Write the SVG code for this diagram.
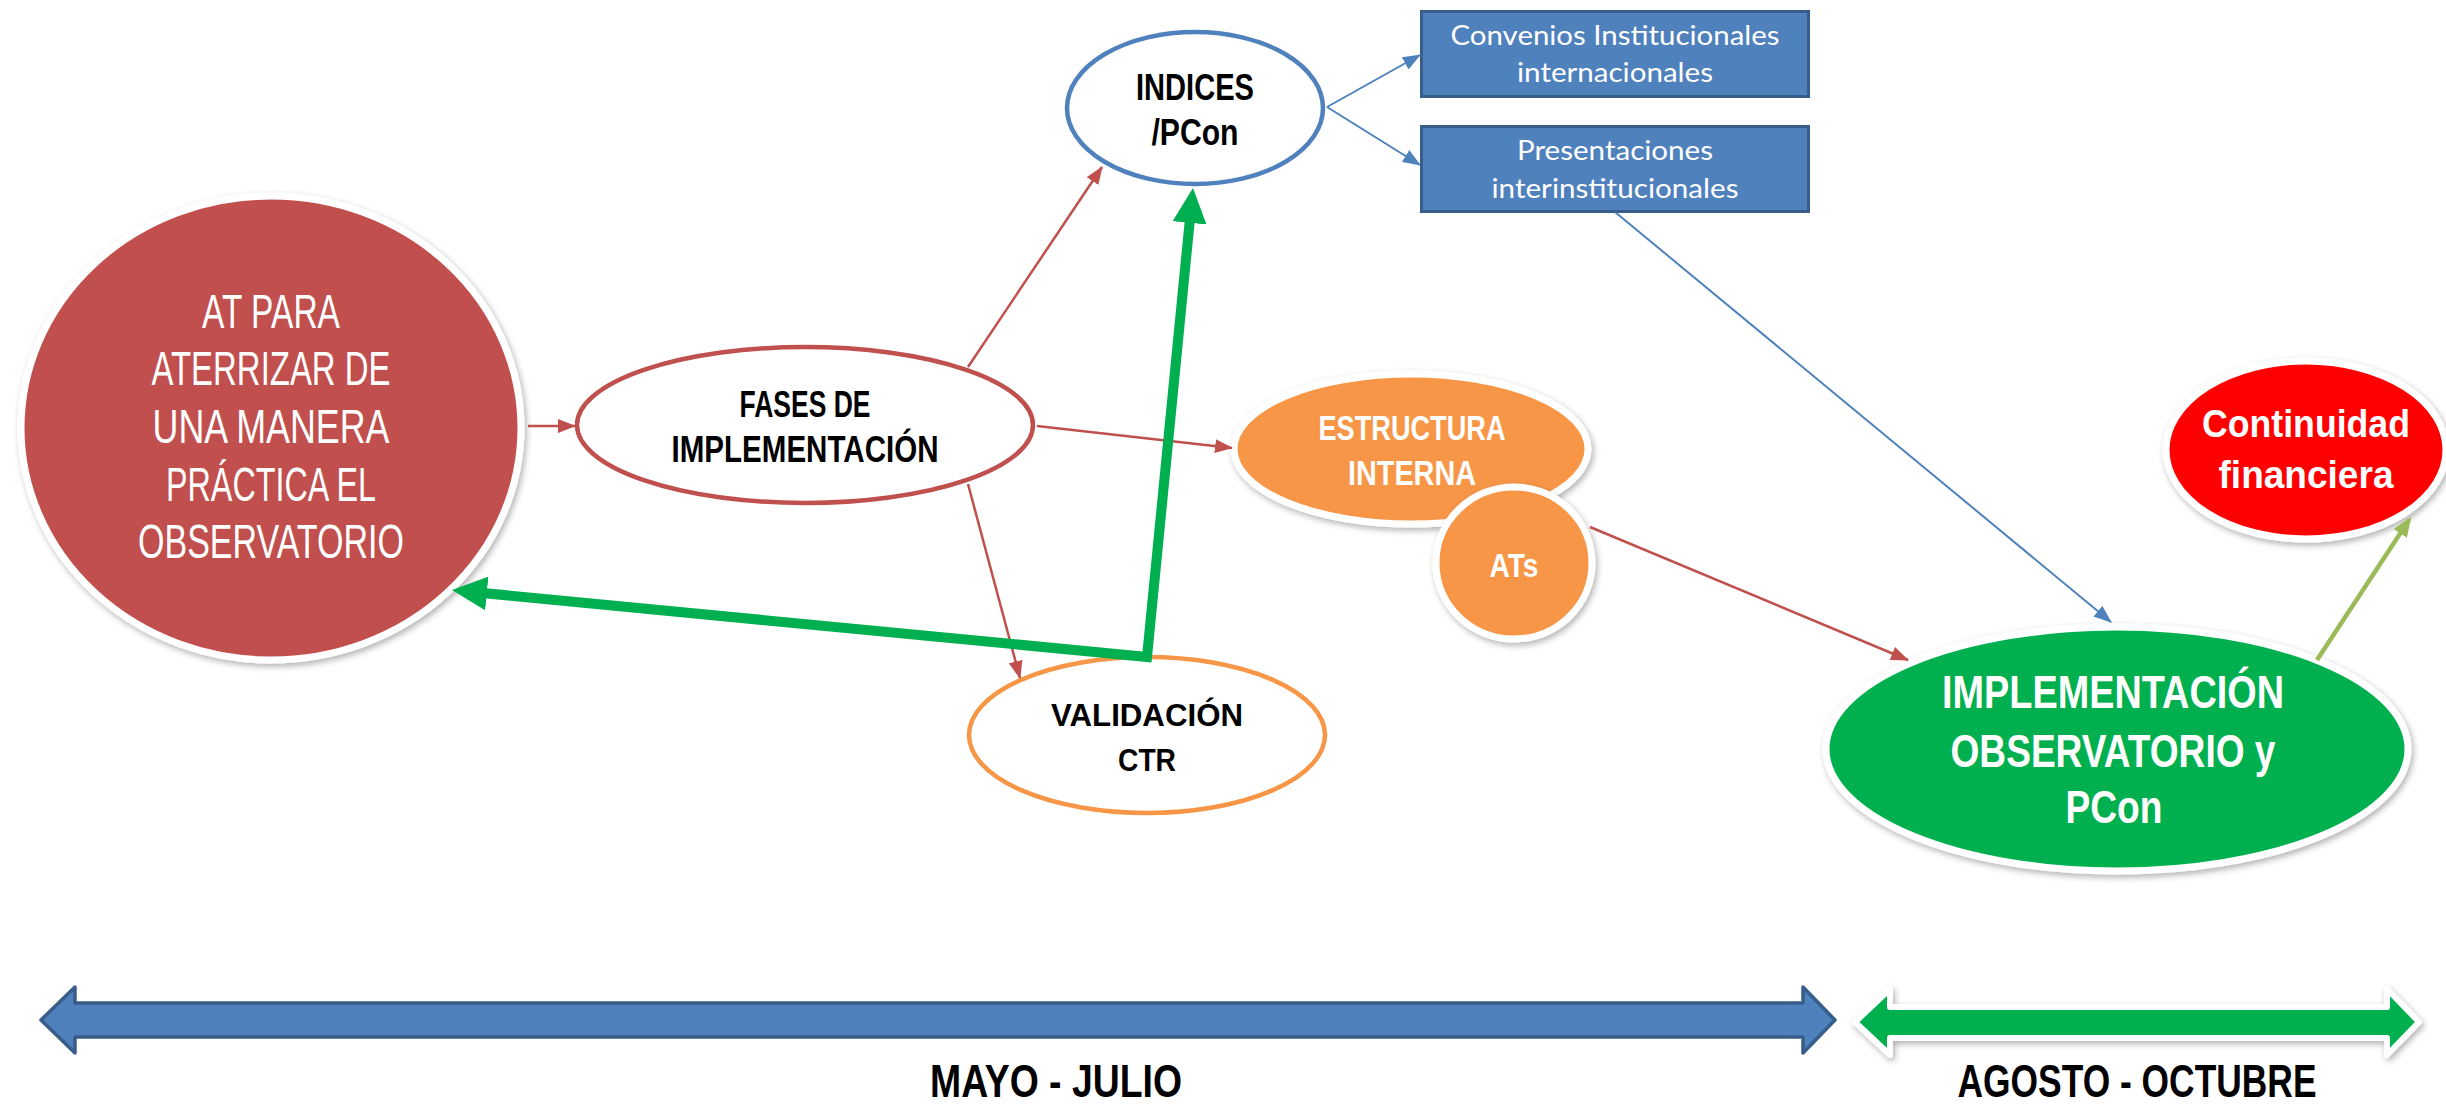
<svg xmlns="http://www.w3.org/2000/svg" width="2446" height="1107" viewBox="0 0 2446 1107">
<style>
.t{font-family:"Liberation Sans",Arial,sans-serif;text-anchor:middle}
.b{font-weight:bold}
.w{fill:#fff}
.k{fill:#000}
.box{font-family:Lato,"Open Sans","Liberation Sans",sans-serif;text-anchor:middle;fill:#fff}
.cr{stroke:#C0504D;stroke-width:2.5;fill:none}
.cb{stroke:#4F81BD;stroke-width:2;fill:none}
.co{stroke:#9BBB59;stroke-width:4.5;fill:none}
.cg{stroke:#00B050;stroke-width:10;fill:none;stroke-linejoin:miter}
.halo{stroke:#fff;stroke-width:7}
</style>
<defs>
<filter id="sh" x="-10%" y="-10%" width="125%" height="130%">
<feDropShadow dx="2" dy="3" stdDeviation="3" flood-color="#000" flood-opacity="0.3"/>
</filter>
<marker id="mr" markerUnits="userSpaceOnUse" viewBox="0 0 18 14" markerWidth="18" markerHeight="14" refX="17" refY="7" orient="auto"><path d="M0,0 L18,7 L0,14 z" fill="#C0504D"/></marker>
<marker id="mb" markerUnits="userSpaceOnUse" viewBox="0 0 18 14" markerWidth="18" markerHeight="14" refX="17" refY="7" orient="auto"><path d="M0,0 L18,7 L0,14 z" fill="#4F81BD"/></marker>
<marker id="mo" markerUnits="userSpaceOnUse" viewBox="0 0 20 16" markerWidth="20" markerHeight="16" refX="16" refY="8" orient="auto"><path d="M0,0 L20,8 L0,16 z" fill="#9BBB59"/></marker>
<marker id="mg" markerUnits="userSpaceOnUse" viewBox="0 0 35 34" markerWidth="35" markerHeight="34" refX="23" refY="17" orient="auto-start-reverse"><path d="M0,0 L35,17 L0,34 z" fill="#00B050"/></marker>
</defs>
<rect width="2446" height="1107" fill="#fff"/>

<g id="node-at-para">
<ellipse cx="271" cy="428" rx="250" ry="232" fill="#C0504D" class="halo" filter="url(#sh)"/>
<text class="t w" font-size="49"><tspan x="271" y="328" textLength="138" lengthAdjust="spacingAndGlyphs">AT PARA</tspan><tspan x="271" y="385" textLength="239" lengthAdjust="spacingAndGlyphs">ATERRIZAR DE</tspan><tspan x="271" y="443" textLength="237" lengthAdjust="spacingAndGlyphs">UNA MANERA</tspan><tspan x="271" y="501" textLength="210" lengthAdjust="spacingAndGlyphs">PRÁCTICA EL</tspan><tspan x="271" y="558" textLength="266" lengthAdjust="spacingAndGlyphs">OBSERVATORIO</tspan></text>
</g>

<g id="node-fases">
<ellipse cx="805" cy="425" rx="228" ry="78" fill="#fff" stroke="#C0504D" stroke-width="4.5"/>
<text class="t b k" font-size="36"><tspan x="805" y="417" textLength="131" lengthAdjust="spacingAndGlyphs">FASES DE</tspan><tspan x="805" y="462" textLength="267" lengthAdjust="spacingAndGlyphs">IMPLEMENTACIÓN</tspan></text>
</g>

<g id="node-indices">
<ellipse cx="1195" cy="108" rx="128" ry="76" fill="#fff" stroke="#4F81BD" stroke-width="4.5"/>
<text class="t b k" font-size="36"><tspan x="1195" y="100" textLength="118" lengthAdjust="spacingAndGlyphs">INDICES</tspan><tspan x="1195" y="145" textLength="87" lengthAdjust="spacingAndGlyphs">/PCon</tspan></text>
</g>

<g id="node-convenios">
<rect x="1421.5" y="11.5" width="387" height="85" fill="#4F81BD" stroke="#385D8A" stroke-width="3"/>
<text class="box" font-size="26"><tspan x="1615" y="45" textLength="329" lengthAdjust="spacingAndGlyphs">Convenios Institucionales</tspan><tspan x="1615" y="82" textLength="196" lengthAdjust="spacingAndGlyphs">internacionales</tspan></text>
</g>

<g id="node-presentaciones">
<rect x="1421.5" y="126.5" width="387" height="85" fill="#4F81BD" stroke="#385D8A" stroke-width="3"/>
<text class="box" font-size="26"><tspan x="1615" y="160" textLength="196" lengthAdjust="spacingAndGlyphs">Presentaciones</tspan><tspan x="1615" y="198" textLength="247" lengthAdjust="spacingAndGlyphs">interinstitucionales</tspan></text>
</g>

<g id="node-validacion">
<ellipse cx="1147" cy="735" rx="178" ry="78" fill="#fff" stroke="#F79646" stroke-width="4.5"/>
<text class="t b k" font-size="32"><tspan x="1147" y="726" textLength="192" lengthAdjust="spacingAndGlyphs">VALIDACIÓN</tspan><tspan x="1147" y="771" textLength="58" lengthAdjust="spacingAndGlyphs">CTR</tspan></text>
</g>

<g id="node-estructura">
<ellipse cx="1411" cy="449" rx="177" ry="75" fill="#F79646" class="halo" filter="url(#sh)"/>
<text class="t b w" font-size="35"><tspan x="1412" y="440" textLength="187" lengthAdjust="spacingAndGlyphs">ESTRUCTURA</tspan><tspan x="1412" y="485" textLength="128" lengthAdjust="spacingAndGlyphs">INTERNA</tspan></text>
</g>

<g id="node-ats">
<ellipse cx="1514" cy="563" rx="78" ry="76" fill="#F79646" class="halo" filter="url(#sh)"/>
<text class="t b w" font-size="33" x="1514" y="577" textLength="49" lengthAdjust="spacingAndGlyphs">ATs</text>
</g>

<g id="node-implementacion">
<ellipse cx="2117" cy="749" rx="291" ry="122" fill="#00B050" class="halo" filter="url(#sh)"/>
<text class="t b w" font-size="46"><tspan x="2113" y="708" textLength="342" lengthAdjust="spacingAndGlyphs">IMPLEMENTACIÓN</tspan><tspan x="2113" y="767" textLength="325" lengthAdjust="spacingAndGlyphs">OBSERVATORIO y</tspan><tspan x="2114" y="823" textLength="97" lengthAdjust="spacingAndGlyphs">PCon</tspan></text>
</g>

<g id="node-continuidad">
<ellipse cx="2306" cy="450" rx="140" ry="89" fill="#FF0000" class="halo" filter="url(#sh)"/>
<text class="t b w" font-size="38"><tspan x="2306" y="437" textLength="208" lengthAdjust="spacingAndGlyphs">Continuidad</tspan><tspan x="2306" y="488" textLength="175" lengthAdjust="spacingAndGlyphs">financiera</tspan></text>
</g>

<g id="timeline-mayo-julio">
<polygon points="41,1020 75,987 75,1003 1803,1003 1803,987 1835,1020 1803,1053 1803,1037 75,1037 75,1053" fill="#4F81BD" stroke="#385D8A" stroke-width="3.5" stroke-linejoin="round"/>
<text class="t b k" font-size="46" x="1056" y="1097" textLength="252" lengthAdjust="spacingAndGlyphs">MAYO - JULIO</text>
</g>

<g id="timeline-agosto-octubre">
<polygon points="1855,1022 1890,989 1890,1007 2387,1007 2387,989 2419,1022 2387,1055 2387,1038 1890,1038 1890,1055" fill="#00B050" stroke="#fff" stroke-width="6" stroke-linejoin="round" filter="url(#sh)"/>
<text class="t b k" font-size="46" x="2137" y="1097" textLength="359" lengthAdjust="spacingAndGlyphs">AGOSTO - OCTUBRE</text>
</g>

<g id="connectors">
<line class="cr" x1="528" y1="426" x2="575" y2="426" marker-end="url(#mr)"/>
<line class="cr" x1="968" y1="367" x2="1102" y2="167" marker-end="url(#mr)"/>
<line class="cr" x1="968" y1="484" x2="1020" y2="678" marker-end="url(#mr)"/>
<line class="cr" x1="1037" y1="426" x2="1232" y2="448" marker-end="url(#mr)"/>
<line class="cr" x1="1590" y1="527" x2="1908" y2="660" marker-end="url(#mr)"/>
<line class="cb" x1="1327" y1="107" x2="1420" y2="55" marker-end="url(#mb)"/>
<line class="cb" x1="1327" y1="107" x2="1420" y2="165" marker-end="url(#mb)"/>
<line class="cb" x1="1615" y1="212" x2="2111" y2="622" marker-end="url(#mb)"/>
<line class="co" x1="2317" y1="660" x2="2409" y2="520" marker-end="url(#mo)"/>
<path class="cg" d="M463.9,591.2 L1147,657 L1191.8,199.9" marker-start="url(#mg)" marker-end="url(#mg)"/>
</g>
</svg>
